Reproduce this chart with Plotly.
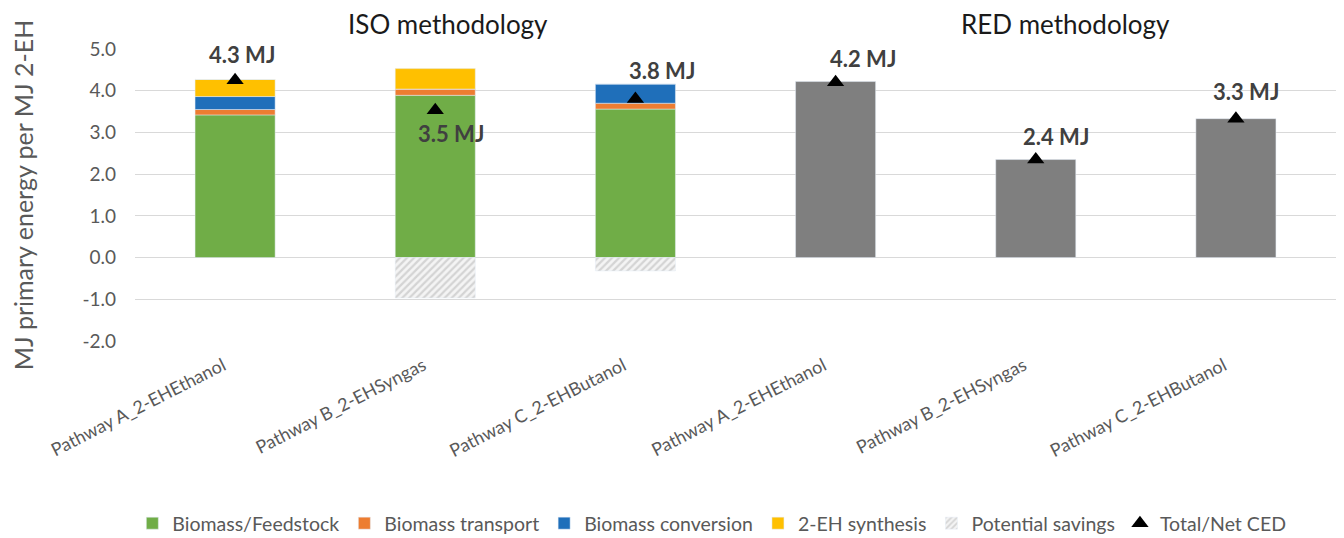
import plotly.graph_objects as go

# ---------------- data ----------------
categories = ["Pathway A_2-EHEthanol", "Pathway B_2-EHSyngas", "Pathway C_2-EHButanol",
              "Pathway A_2-EHEthanol", "Pathway B_2-EHSyngas", "Pathway C_2-EHButanol"]
biomass_feedstock = [3.42, 3.89, 3.56, None, None, None]
biomass_transport = [0.13, 0.15, 0.14, None, None, None]
biomass_conversion = [0.31, 0.0, 0.46, None, None, None]
eh_synthesis = [0.41, 0.49, 0.0, None, None, None]
potential_savings = [0.0, -0.97, -0.32, None, None, None]
red_total = [None, None, None, 4.22, 2.35, 3.33]
net_ced = [4.25, 3.53, 3.80, 4.20, 2.35, 3.33]
net_labels = ["4.3 MJ", "3.5 MJ", "3.8 MJ", "4.2 MJ", "2.4 MJ", "3.3 MJ"]
label_shift_x = [7, 16, 27, 27, 20, 10]
label_shift_y = [26, -23, 29, 24, 23, 27]
y_tickvals = [-2, -1, 0, 1, 2, 3, 4, 5]
y_ticktext = ["-2.0", "-1.0", "0.0", "1.0", "2.0", "3.0", "4.0", "5.0"]
group_titles = ["ISO methodology", "RED methodology"]

# ---------------- figure ----------------
FONT = "Lato"
GRAY_TXT = "#595959"
x = list(range(len(categories)))

fig = go.Figure()
fig.add_bar(x=x, y=biomass_feedstock, name="Biomass/Feedstock", marker_color="#70AD47")
fig.add_bar(x=x, y=biomass_transport, name="Biomass transport", marker_color="#ED7D31")
fig.add_bar(x=x, y=biomass_conversion, name="Biomass conversion", marker_color="#1F6FBA")
fig.add_bar(x=x, y=eh_synthesis, name="2-EH synthesis", marker_color="#FFC000")
fig.add_bar(x=x, y=potential_savings, name="Potential savings",
            marker=dict(color="#F2F2F2",
                        pattern=dict(shape="/", fgcolor="#D4D4D4", bgcolor="#F4F4F4",
                                     size=5, solidity=0.45, fillmode="replace")))
fig.add_bar(x=x, y=red_total, name="RED", marker_color="#7F7F7F", showlegend=False)
fig.add_scatter(x=x, y=net_ced, mode="markers", name="Total/Net CED",
                marker=dict(symbol="triangle-up", size=15, color="black"))

for i, (xv, yv) in enumerate(zip(x, net_ced)):
    fig.add_annotation(x=xv, y=yv, text=net_labels[i], showarrow=False,
                       xshift=label_shift_x[i], yshift=label_shift_y[i],
                       font=dict(family=FONT, size=22, color="#404040", weight="bold"))

fig.add_annotation(x=0.2606, y=1.0, xref="paper", yref="paper", yshift=25,
                   xanchor="center", yanchor="middle",
                   text=group_titles[0], showarrow=False,
                   font=dict(family=FONT, size=26, color="#1a1a1a"))
fig.add_annotation(x=0.7745, y=1.0, xref="paper", yref="paper", yshift=25,
                   xanchor="center", yanchor="middle",
                   text=group_titles[1], showarrow=False,
                   font=dict(family=FONT, size=26, color="#1a1a1a"))

fig.update_layout(
    width=1328, height=530,
    barmode="relative", bargap=0.6,
    plot_bgcolor="white", paper_bgcolor="white",
    margin=dict(l=127, r=0, t=41, b=197, autoexpand=False),
    font=dict(family=FONT, color=GRAY_TXT),
    legend=dict(orientation="h", xref="container", x=0.530, xanchor="center",
                y=-0.625, yanchor="middle", font=dict(size=19.5, color=GRAY_TXT),
                traceorder="normal"),
    xaxis=dict(tickvals=x, ticktext=categories, range=[-0.5, 5.5], tickangle=-27,
               tickfont=dict(size=18, color=GRAY_TXT), showgrid=False, showline=False,
               zeroline=False, ticks="", ticklabelstandoff=10, ticklabelshift=-12),
    yaxis=dict(range=[-2, 5], tickvals=y_tickvals, ticktext=y_ticktext,
               tickfont=dict(size=19, color=GRAY_TXT), gridcolor="#D9D9D9", gridwidth=1,
               zeroline=True, zerolinecolor="#D9D9D9", zerolinewidth=1, showline=False,
               ticklabelstandoff=18,
               title=dict(text="MJ primary energy per MJ 2-EH",
                          font=dict(size=25, color=GRAY_TXT), standoff=47)),
)

fig.write_html("out.html")
